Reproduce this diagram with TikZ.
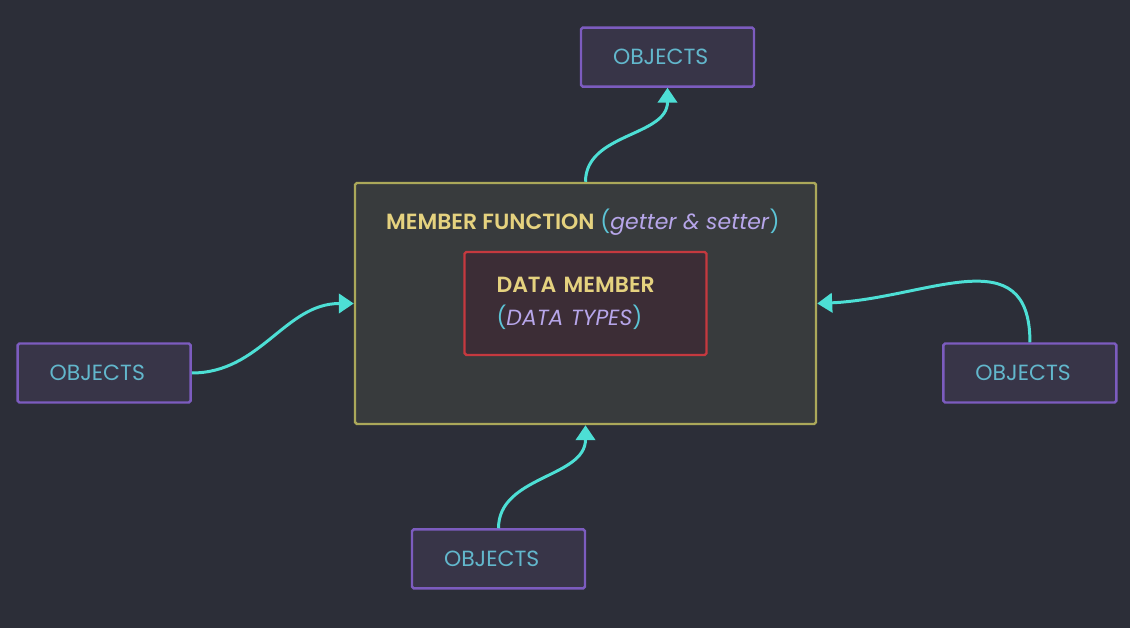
\documentclass[tikz,border=0pt]{standalone}
\usepackage{fontspec}
\setmainfont{Poppins}[BoldFont={Poppins SemiBold}, BoldItalicFont={Poppins SemiBold Italic}]
\usetikzlibrary{shapes,arrows,positioning,arrows.meta}
\usepackage{xcolor}

\definecolor{bgdark}{HTML}{2C2E38}
\definecolor{mffill}{HTML}{383B3D}
\definecolor{mfline}{HTML}{ABA85A}
\definecolor{dmfill}{HTML}{3C2D36}
\definecolor{dmline}{HTML}{C5393F}
\definecolor{objfill}{HTML}{383548}
\definecolor{objline}{HTML}{7C5CBF}
\definecolor{objtext}{HTML}{62B7CC}
\definecolor{titleyellow}{HTML}{E5D27F}
\definecolor{lavender}{HTML}{B7A6EA}
\definecolor{parcyan}{HTML}{5CC4D6}
\definecolor{arrowcyan}{HTML}{4DDFD5}

\begin{document}
\begin{tikzpicture}[node distance=2cm, auto]

% Background
\useasboundingbox[fill=bgdark] (0,0) rectangle (22.6,12.56);

% Styles for boxes
\tikzstyle{objbox} = [rectangle, draw=objline, fill=objfill, line width=1.4pt, rounded corners=1pt, text width=2.18cm, inner xsep=0.64cm, align=left, minimum height=1.18cm, text=objtext, font=\fontsize{12.5}{14}\selectfont]
\tikzstyle{mfbox} = [rectangle, draw=mfline, fill=mffill, line width=1.4pt, rounded corners=1pt, minimum width=9.22cm, minimum height=4.82cm]
\tikzstyle{dmbox} = [rectangle, draw=dmline, fill=dmfill, line width=1.4pt, rounded corners=1pt, text width=3.56cm, inner xsep=0.64cm, align=left, minimum height=2.06cm, font=\fontsize{12.5}{19}\selectfont]
\tikzstyle{arrow} = [draw=arrowcyan, line width=1.7pt, -{Triangle[length=8.5pt, width=11pt]}]

% Nodes
\node [mfbox] (mf) at (11.71,6.49) {};
\node [anchor=base west, inner sep=0pt, font=\fontsize{12.5}{15}\selectfont] (mflabel) at ([xshift=0.64cm, yshift=-0.96cm]mf.north west) {\textcolor{titleyellow}{\textbf{MEMBER FUNCTION}} \textcolor{parcyan}{(}\textcolor{lavender}{\textit{getter \& setter}}\textcolor{parcyan}{)}};
\node [dmbox] (dm) at (mf.center) {\textcolor{titleyellow}{\textbf{DATA MEMBER}}\\\textcolor{parcyan}{(}\textcolor{lavender}{\textit{DATA TYPES}}\textcolor{parcyan}{)}};
\node [objbox, above=1.88cm of mf, xshift=1.64cm] (objtop) {OBJECTS};
\node [objbox, left=3.24cm of mf, yshift=-1.39cm] (objleft) {OBJECTS};
\node [objbox, right=2.50cm of mf, yshift=-1.39cm] (objright) {OBJECTS};
\node [objbox, below=2.06cm of mf, xshift=-1.74cm] (objbottom) {OBJECTS};

% Edges
\draw[arrow] (mf.north) to[out=90, in=-90] (objtop.south);
\draw[arrow] (objleft.east) to[out=0, in=180] (mf.west);
\draw[arrow] (objright.north) .. controls +(0,2.1) and +(2.2,0.1) .. (mf.east);
\draw[arrow] (objbottom.north) to[out=90, in=-90] (mf.south);

\end{tikzpicture}
\end{document}
